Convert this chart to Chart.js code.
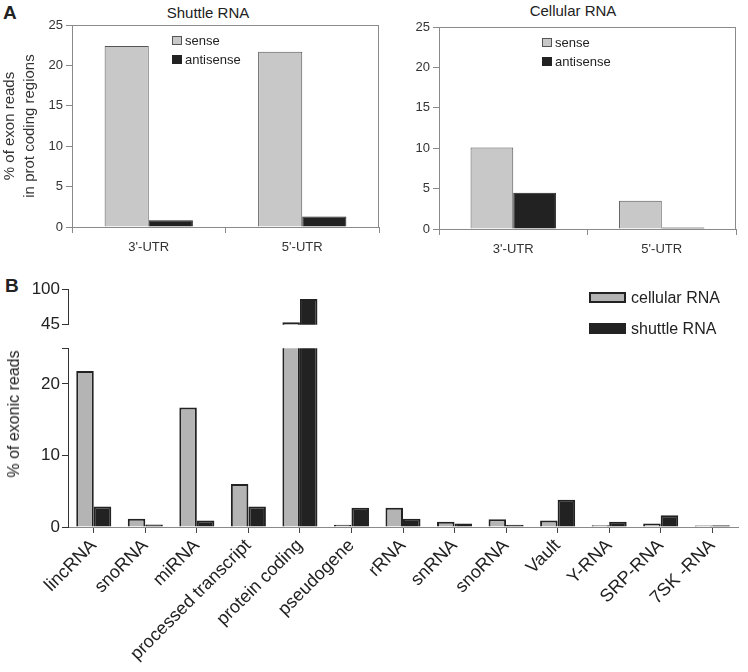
<!DOCTYPE html>
<html>
<head>
<meta charset="utf-8">
<title>Shuttle vs cellular RNA</title>
<script src="https://cdn.jsdelivr.net/npm/chart.js@4.4.1/dist/chart.umd.min.js"></script>
<style>
  body { margin: 0; background: #fff; }
  #page { position: relative; width: 748px; height: 672px; overflow: hidden;
          font-family: "Liberation Sans", Arial, sans-serif; color: #222; }
  canvas { position: absolute; }
  .txt { position: absolute; white-space: nowrap; line-height: 1; }
  .key { position: absolute; box-sizing: border-box; }
</style>
</head>
<body>
<div id="page">
  <div class="txt" style="left:3px;top:3px;font-size:19px;font-weight:bold;">A</div>
  <div class="txt" style="left:208px;top:5px;font-size:15px;transform:translateX(-50%);">Shuttle RNA</div>
  <div class="txt" style="left:573px;top:3px;font-size:15px;transform:translateX(-50%);">Cellular RNA</div>

  <canvas id="shuttleChart" width="390" height="262" style="left:0;top:0;"></canvas>
  <canvas id="cellularChart" width="358" height="262" style="left:390px;top:2px;"></canvas>

  <!-- panel A legends -->
  <div class="key" style="left:172px;top:36px;width:10px;height:9px;background:#c8c8c8;border:1px solid #555;"></div>
  <div class="txt" style="left:185px;top:34px;font-size:13px;">sense</div>
  <div class="key" style="left:172px;top:55px;width:10px;height:9px;background:#222;"></div>
  <div class="txt" style="left:185px;top:53px;font-size:13px;">antisense</div>

  <div class="key" style="left:542px;top:38px;width:10px;height:9px;background:#c8c8c8;border:1px solid #555;"></div>
  <div class="txt" style="left:555px;top:36px;font-size:13px;">sense</div>
  <div class="key" style="left:542px;top:57px;width:10px;height:9px;background:#222;"></div>
  <div class="txt" style="left:555px;top:55px;font-size:13px;">antisense</div>

  <div class="txt" style="left:5px;top:276px;font-size:19px;font-weight:bold;">B</div>
  <canvas id="upperChart" width="748" height="60" style="left:0;top:277px;"></canvas>
  <canvas id="lowerChart" width="748" height="336" style="left:0;top:336px;"></canvas>
  <div class="txt" style="left:14px;top:414px;font-size:16px;transform:translate(-50%,-50%) rotate(-90deg);">% of exonic reads</div>

  <!-- panel B legend -->
  <div class="key" style="left:589px;top:292px;width:37px;height:11px;background:#b4b4b4;border:2px solid #222;"></div>
  <div class="txt" style="left:631px;top:290px;font-size:16px;">cellular RNA</div>
  <div class="key" style="left:589px;top:323px;width:37px;height:11px;background:#222;"></div>
  <div class="txt" style="left:631px;top:321px;font-size:16px;">shuttle RNA</div>
</div>

<script>
// ---- data ----
const utrLabels = ["3'-UTR", "5'-UTR"];
const shuttleSense = [22.4, 21.7];
const shuttleAntisense = [0.85, 1.3];
const cellularSense = [10.1, 3.5];
const cellularAntisense = [4.5, 0.2];
const utrTicks = [0, 5, 10, 15, 20, 25];

const rnaTypes = ['lincRNA', 'snoRNA', 'miRNA', 'processed transcript', 'protein coding',
  'pseudogene', 'rRNA', 'snRNA', 'snoRNA', 'Vault', 'Y-RNA', 'SRP-RNA', '7SK -RNA'];
const cellularRNA = [21.8, 1.15, 16.7, 6.0, 49, 0.3, 2.7, 0.75, 1.1, 0.9, 0.25, 0.5, 0.2];
const shuttleRNA  = [2.85, 0.35, 0.9, 2.85, 85, 2.7, 1.15, 0.5, 0.3, 3.8, 0.75, 1.65, 0.25];
const lowerTicks = [0, 10, 20, 25];   // 25 = top of lower segment, unlabeled
const upperTicks = [45, 100];
const breakLow = 25, breakHigh = 45;

const FONT = '"Liberation Sans", Arial, sans-serif';
const AXIS_GREY = '#8a8a8a';

// grey box around the plot area (panel A)
const framePlugin = {
  id: 'frame',
  beforeDatasetsDraw(chart) {
    const { ctx, chartArea: a } = chart;
    ctx.save();
    ctx.strokeStyle = AXIS_GREY;
    ctx.lineWidth = 1;
    ctx.strokeRect(Math.round(a.left) + 0.5, Math.round(a.top) + 0.5,
      Math.round(a.right - a.left) - 1, Math.round(a.bottom - a.top));
    ctx.restore();
  }
};

function utrChart(id, sense, antisense, yWidth, padRight, yTitle) {
  return new Chart(document.getElementById(id), {
    type: 'bar',
    data: {
      labels: utrLabels,
      datasets: [
        { label: 'sense', data: sense, backgroundColor: '#c8c8c8', borderColor: '#555',
          borderWidth: 1, borderSkipped: 'start' },
        { label: 'antisense', data: antisense, backgroundColor: '#222', borderColor: '#222',
          borderWidth: 1, borderSkipped: 'start' }
      ]
    },
    options: {
      responsive: false,
      animation: false,
      events: [],
      layout: { padding: { left: 0, top: 25, right: padRight, bottom: 0 } },
      plugins: { legend: { display: false }, tooltip: { enabled: false } },
      datasets: { bar: { categoryPercentage: 0.575, barPercentage: 1 } },
      scales: {
        x: {
          afterFit: s => { s.height = 35; },
          border: { display: false },
          grid: { drawOnChartArea: false, tickLength: 6, color: AXIS_GREY },
          ticks: { color: '#333', padding: 7, font: { family: FONT, size: 13 } }
        },
        y: {
          min: 0, max: 25,
          afterFit: s => { s.width = yWidth; },
          afterBuildTicks: s => { s.ticks = utrTicks.map(v => ({ value: v })); },
          border: { display: false },
          grid: { drawOnChartArea: false, tickLength: 6, color: AXIS_GREY },
          ticks: { color: '#333', padding: 3, font: { family: FONT, size: 13 } },
          title: yTitle ? { display: true, text: yTitle, color: '#333', padding: 0,
                            font: { family: FONT, size: 15, lineHeight: '20px' } }
                        : { display: false }
        }
      }
    },
    plugins: [framePlugin]
  });
}

utrChart('shuttleChart', shuttleSense, shuttleAntisense, 72, 11,
  ['% of exon reads', 'in prot coding regions']);
utrChart('cellularChart', cellularSense, cellularAntisense, 49, 12, null);

// ---- panel B: broken y axis drawn as two stacked charts ----
function rnaDatasets(filter) {
  return [
    { label: 'cellular RNA', data: cellularRNA.map(filter), backgroundColor: '#b4b4b4',
      borderColor: '#222', borderWidth: 2, borderSkipped: 'start', clip: 0 },
    { label: 'shuttle RNA', data: shuttleRNA.map(filter), backgroundColor: '#222',
      borderColor: '#222', borderWidth: 2, borderSkipped: 'start', clip: 0 }
  ];
}

const commonB = {
  responsive: false,
  animation: false,
  events: [],
  plugins: { legend: { display: false }, tooltip: { enabled: false } },
  datasets: { bar: { categoryPercentage: 0.68, barPercentage: 1 } }
};

new Chart(document.getElementById('upperChart'), {
  type: 'bar',
  data: { labels: rnaTypes, datasets: rnaDatasets(v => v > breakHigh ? v : null) },
  options: {
    ...commonB,
    layout: { padding: { left: 0, top: 10, right: 10, bottom: 10 } },
    scales: {
      x: { display: false },
      y: {
        min: breakHigh, max: 100,
        afterFit: s => { s.width = 68; },
        afterBuildTicks: s => { s.ticks = upperTicks.map(v => ({ value: v })); },
        border: { display: true, color: '#333', width: 1 },
        grid: { drawOnChartArea: false, tickLength: 6, color: '#333' },
        ticks: { color: '#222', padding: 2, font: { family: FONT, size: 17 } }
      }
    }
  }
});

new Chart(document.getElementById('lowerChart'), {
  type: 'bar',
  data: { labels: rnaTypes, datasets: rnaDatasets(v => v) },
  options: {
    ...commonB,
    layout: { padding: { left: 0, top: 10, right: 10, bottom: 0 } },
    scales: {
      x: {
        afterFit: s => { s.height = 145; },
        border: { display: true, color: AXIS_GREY, width: 1 },
        grid: { drawOnChartArea: false, offset: false, tickLength: 6, color: '#444' },
        ticks: { color: '#222', autoSkip: false, maxRotation: 45, minRotation: 45,
                 padding: 2, font: { family: FONT, size: 18 } }
      },
      y: {
        min: 0, max: breakLow,
        afterFit: s => { s.width = 68; },
        afterBuildTicks: s => { s.ticks = lowerTicks.map(v => ({ value: v })); },
        border: { display: true, color: '#333', width: 1 },
        grid: { drawOnChartArea: false, tickLength: 6, color: '#333' },
        ticks: { color: '#222', padding: 2, font: { family: FONT, size: 17 },
                 callback: v => v === breakLow ? '' : v }
      }
    }
  }
});
</script>
</body>
</html>
